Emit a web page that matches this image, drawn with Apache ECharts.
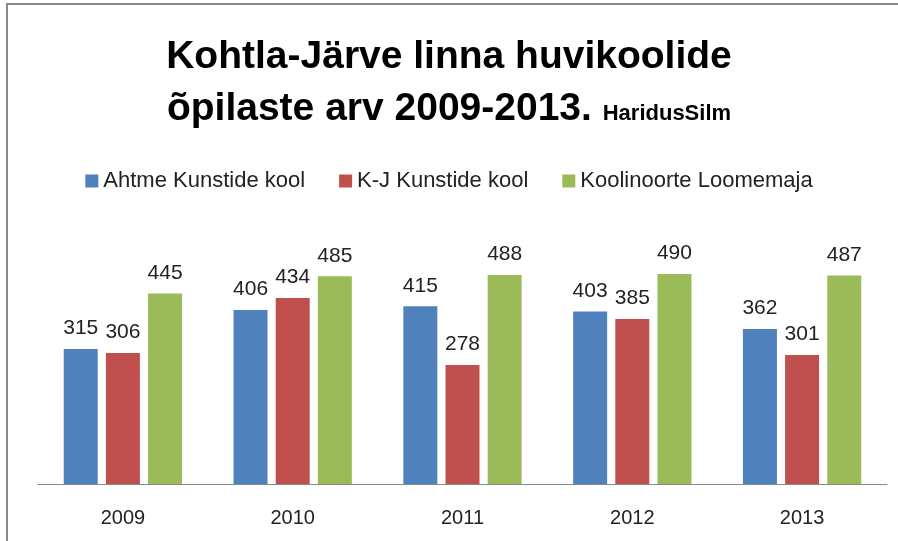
<!DOCTYPE html>
<html>
<head>
<meta charset="utf-8">
<script src="https://cdn.jsdelivr.net/npm/echarts@6/dist/echarts.min.js"></script>
<style>
  html, body { margin: 0; padding: 0; background: #fff; }
  #main { width: 898px; height: 541px; }
</style>
</head>
<body>
<div id="main"></div>
<script>
// aastad ja koolide õpilaste arv
var years = ['2009', '2010', '2011', '2012', '2013'];
var ahtme = [315, 406, 415, 403, 362];
var kj = [306, 434, 278, 385, 301];
var loomemaja = [445, 485, 488, 490, 487];

var chart = echarts.init(document.getElementById('main'));
var labelStyle = {
  show: true,
  position: 'top',
  distance: 10,
  fontSize: 21,
  color: '#222',
  fontFamily: 'Liberation Sans'
};
var option = {
  animation: false,
  color: ['#4F81BD', '#C0504D', '#9BBB59'],
  graphic: [{
    type: 'rect',
    shape: { x: 7, y: 4, width: 1000, height: 1000 },
    style: { fill: 'none', stroke: '#8a8a8a', lineWidth: 2 },
    silent: true
  }],
  title: {
    text: 'Kohtla-Järve linna huvikoolide\nõpilaste arv 2009-2013. {s|HaridusSilm}',
    left: 'center',
    top: 26,
    textStyle: {
      fontFamily: 'Liberation Sans',
      fontWeight: 'bold',
      fontSize: 39,
      lineHeight: 52,
      color: '#000',
      rich: {
        s: { fontSize: 22, fontWeight: 'bold', fontFamily: 'Liberation Sans', color: '#000', padding: [10, 0, 0, 0] }
      }
    }
  },
  legend: {
    top: 165,
    left: 'center',
    itemWidth: 13,
    itemHeight: 13,
    itemGap: 34,
    icon: 'rect',
    textStyle: { fontSize: 22, color: '#222', fontFamily: 'Liberation Sans' }
  },
  grid: { left: 38, right: 11, top: 227, bottom: 57 },
  xAxis: {
    type: 'category',
    data: years,
    axisLine: { lineStyle: { color: '#888', width: 1 } },
    axisTick: { show: false },
    axisLabel: { fontSize: 20, color: '#222', margin: 24, fontFamily: 'Liberation Sans' }
  },
  yAxis: {
    type: 'value',
    min: 0,
    max: 600,
    show: false,
    splitLine: { show: false }
  },
  series: [
    { name: 'Ahtme Kunstide kool', type: 'bar', data: ahtme, barWidth: 34, barGap: '24%', label: labelStyle },
    { name: 'K-J Kunstide kool', type: 'bar', data: kj, barWidth: 34, barGap: '24%', label: labelStyle },
    { name: 'Koolinoorte Loomemaja', type: 'bar', data: loomemaja, barWidth: 34, barGap: '24%', label: labelStyle }
  ]
};
chart.setOption(option);
</script>
</body>
</html>
